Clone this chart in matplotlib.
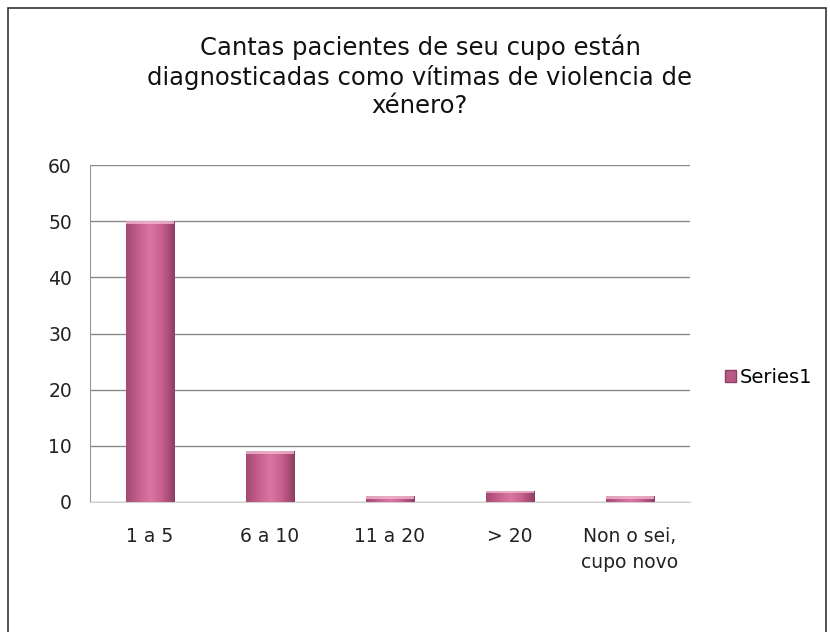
import numpy as np
import matplotlib.pyplot as plt
from matplotlib.colors import LinearSegmentedColormap
from matplotlib.patches import Rectangle

# data
categories = ["1 a 5", "6 a 10", "11 a 20", "> 20", "Non o sei,\ncupo novo"]
values = [50, 9, 1, 2, 1]
series_name = "Series1"
title = ("Cantas pacientes de seu cupo están\n"
         "diagnosticadas como vítimas de violencia de\n"
         "xénero?")
yticks = [0, 10, 20, 30, 40, 50, 60]

plt.rcParams['font.family'] = ['DejaVu Sans']

fig = plt.figure(figsize=(8.3, 6.32), dpi=100)
ax = fig.add_axes([0.1084, 0.2057, 0.7229, 0.5332])

# chart border
fig.patches.append(Rectangle((0.010, -0.01), 0.985, 0.998, transform=fig.transFigure,
                             fill=False, edgecolor="#333333", linewidth=1.2))

x = np.arange(len(categories))
bars = ax.bar(x, values, width=0.4, color="#C8628F", edgecolor="#8E3E63",
              linewidth=0.6, zorder=3, label=series_name)

# horizontal shading on each bar, Excel style
cmap = LinearSegmentedColormap.from_list(
    "pinkbar", ["#A34A74", "#C65E8C", "#D977A2", "#C65E8C", "#8E3E63"])
grad = np.linspace(0, 1, 64).reshape(1, -1)
for b in bars:
    bx, by = b.get_x(), b.get_y()
    bw, bh = b.get_width(), b.get_height()
    im = ax.imshow(grad, cmap=cmap, aspect="auto", zorder=3.5,
                   extent=(bx, bx + bw, by, by + bh))
    im.set_clip_path(b)
    # light cap on top
    ax.add_patch(Rectangle((bx, by + bh - 0.45), bw, 0.45, facecolor="#F2B8D0",
                           edgecolor="none", zorder=4, alpha=0.8))

ax.set_xlim(-0.5, len(categories) - 0.5)
ax.set_ylim(0, 60)
ax.set_yticks(yticks)
ax.set_xticks(x)
ax.set_xticklabels(categories, fontsize=13.5, color="#222222", linespacing=1.45)
ax.tick_params(axis="y", labelsize=13.5, colors="#222222", length=0, pad=13)
ax.tick_params(axis="x", length=0, pad=18)
ax.grid(axis="y", color="#8a8a8a", linewidth=1.0, zorder=0)
ax.set_axisbelow(True)
for s in ["top", "right"]:
    ax.spines[s].set_visible(False)
ax.spines["left"].set_color("#999999")
ax.spines["bottom"].set_color("#d0d0d0")

fig.text(0.506, 0.879, title, ha="center", va="center", fontsize=17.5,
         color="#111111", linespacing=1.22)

handle = Rectangle((0, 0), 1, 1, facecolor="#B85A85", edgecolor="#8E3E63")
fig.legend([handle], [series_name], loc="center left", bbox_to_anchor=(0.852, 0.403),
           frameon=False, fontsize=14, handlelength=0.6, handleheight=0.6,
           handletextpad=0.2)

fig.savefig("out.png", dpi=100)
